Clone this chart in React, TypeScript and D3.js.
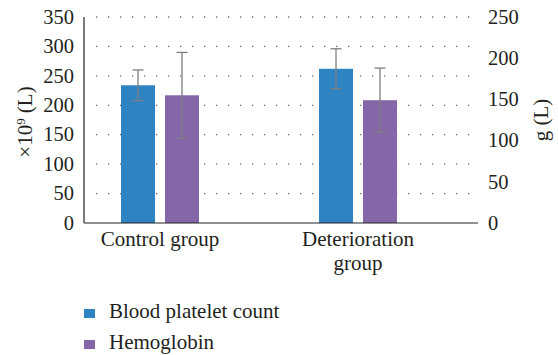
import React from "react";
import * as d3 from "d3";

const categories = ["Control group", "Deterioration group"];
const plateletMean = [234, 262];
const plateletErr = [26, 34];
const hemoglobinMean = [155, 149];
const hemoglobinErr = [52, 39];
const leftTicks = [0, 50, 100, 150, 200, 250, 300, 350];
const rightTicks = [0, 50, 100, 150, 200, 250];

const W = 558, H = 355;
const M = { left: 84, right: 478, top: 17, bottom: 223 };
const FONT = "Liberation Serif";
const BLUE = "#2E83C2";
const PURPLE = "#8466A9";
const TXT = "#231f20";

function T(props: any) {
  const { children, size = 20, ...rest } = props;
  return (
    <text fontFamily={FONT} fontSize={size} fill={TXT} {...rest}>{children}</text>
  );
}

export default function App() {
  const yL = d3.scaleLinear().domain([0, 350]).range([M.bottom, M.top]);
  const yR = d3.scaleLinear().domain([0, 250]).range([M.bottom, M.top]);
  const groupW = 78;
  const xg = d3.scaleBand().domain(["p", "h"]).range([0, groupW]).paddingInner(0.227);
  const centers = [160, 358];
  const xc = d3.scaleOrdinal<string, number>().domain(categories).range(centers);

  const series = [
    { key: "p", mean: plateletMean, err: plateletErr, y: yL, color: BLUE, name: "Blood platelet count" },
    { key: "h", mean: hemoglobinMean, err: hemoglobinErr, y: yR, color: PURPLE, name: "Hemoglobin" },
  ];

  return (
    <svg width={W} height={H} fontFamily={FONT} style={{ position: "absolute", left: 0, top: 0, background: "#fff" }}>
      {leftTicks.filter((t) => t > 0).map((t) => (
        <line key={t} x1={M.left + 12} x2={M.right - 4} y1={yL(t)} y2={yL(t)} stroke="#6f6f6f" strokeWidth={1.3}
          strokeDasharray="1.3,10.7" />
      ))}
      {series.map((s) =>
        categories.map((c, i) => {
          const gx = xc(c) - groupW / 2 + (xg(s.key) as number);
          const bw = xg.bandwidth();
          const top = s.y(s.mean[i]);
          const eTop = s.y(s.mean[i] + s.err[i]);
          const eBot = s.y(s.mean[i] - s.err[i]);
          const cx = gx + bw / 2;
          return (
            <g key={s.key + c}>
              <rect x={gx} y={top} width={bw} height={M.bottom - top} fill={s.color} />
              <line x1={cx} x2={cx} y1={eTop} y2={eBot} stroke="#7f7f7f" strokeWidth={1.3} />
              <line x1={cx - 5.5} x2={cx + 5.5} y1={eTop} y2={eTop} stroke="#7f7f7f" strokeWidth={1.3} />
              <line x1={cx - 5.5} x2={cx + 5.5} y1={eBot} y2={eBot} stroke="#7f7f7f" strokeWidth={1.3} />
            </g>
          );
        })
      )}
      <line x1={M.left} x2={M.left} y1={M.top} y2={M.bottom} stroke="#222" strokeWidth={1.2} />
      <line x1={M.left} x2={M.right} y1={M.bottom} y2={M.bottom} stroke="#222" strokeWidth={1.2} />
      {leftTicks.map((t) => (
        <T key={t} x={74} y={yL(t)} dy="0.33em" textAnchor="end" size={20.5}>{t}</T>
      ))}
      {rightTicks.map((t) => (
        <T key={t} x={488} y={yR(t)} dy="0.33em" textAnchor="start" size={20.5}>{t}</T>
      ))}
      <T transform={`translate(32,122) rotate(-90)`} textAnchor="middle" size={21}>
        ×10<tspan dy="-7" fontSize={13}>9</tspan><tspan dy="7"> (L)</tspan>
      </T>
      <T transform={`translate(548,120) rotate(-90)`} textAnchor="middle" size={21}>g (L)</T>
      <T x={xc(categories[0])} y={246} textAnchor="middle" size={21}>Control group</T>
      <T x={xc(categories[1])} y={246} textAnchor="middle" size={21}>Deterioration</T>
      <T x={xc(categories[1])} y={270} textAnchor="middle" size={21}>group</T>
      {series.map((s, i) => (
        <g key={s.name} transform={`translate(84,${309 + i * 31})`}>
          <rect x={0} y={0} width={11} height={9} fill={s.color} />
          <T x={25} y={9} size={21}>{s.name}</T>
        </g>
      ))}
    </svg>
  );
}
